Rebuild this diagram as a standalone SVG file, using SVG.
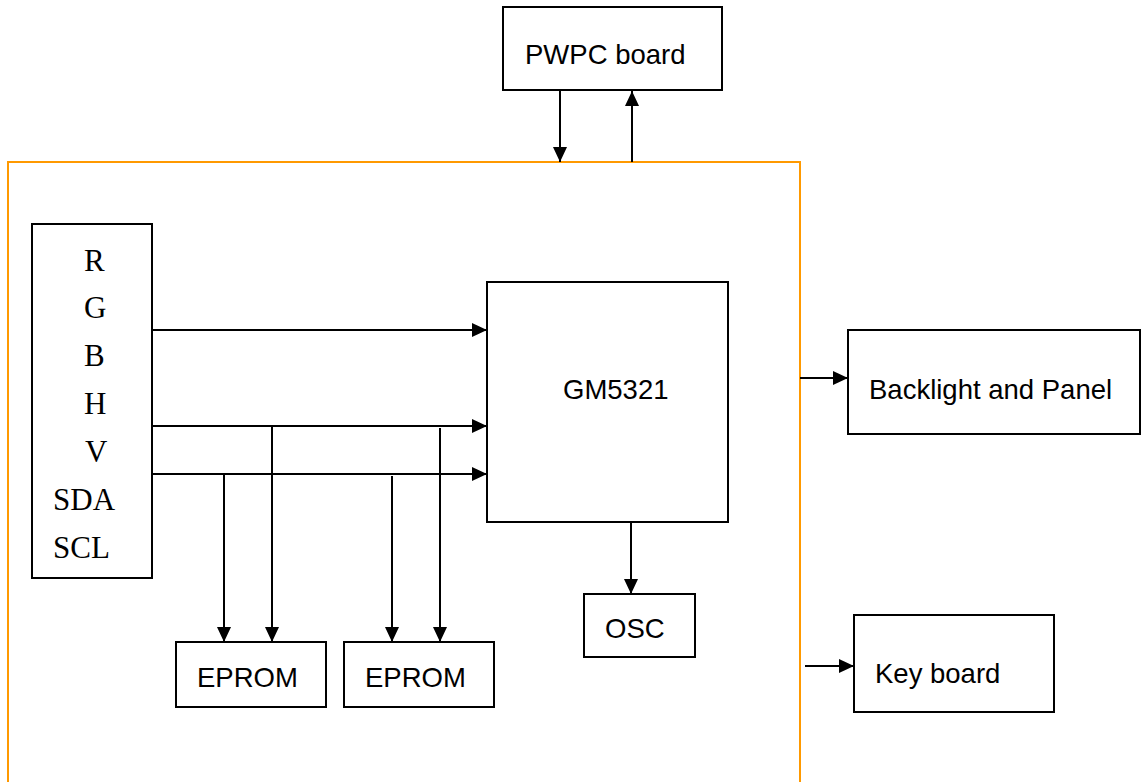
<svg xmlns="http://www.w3.org/2000/svg" width="1141" height="782" viewBox="0 0 1141 782">
<style>
.box{fill:#fff;stroke:#000;stroke-width:2}
.lbl{font-family:"Liberation Sans",Arial,sans-serif;font-size:27.5px;fill:#000}
.sig{font-family:"Liberation Serif","Times New Roman",serif;font-size:31px;fill:#000}
.ln{fill:none;stroke:#000;stroke-width:2}
.frame{fill:none;stroke:#FF9900;stroke-width:2}
</style>
<defs>
<marker id="ah" markerUnits="userSpaceOnUse" markerWidth="15" markerHeight="14" refX="15" refY="7" orient="auto">
<path d="M0,0 L15,7 L0,14 Z" fill="#000"/>
</marker>
</defs>
<rect width="1141" height="782" fill="#fff"/>
<path id="frame" class="frame" d="M8,782 L8,162 L800,162 L800,782"/>
<g id="pwpc">
<rect class="box" x="503" y="7" width="219" height="83"/>
<text class="lbl" x="525" y="64">PWPC board</text>
</g>
<g id="signals">
<rect class="box" x="32" y="224" width="120" height="354"/>
<text class="sig" x="84" y="271">R</text>
<text class="sig" x="84" y="318">G</text>
<text class="sig" x="84" y="366">B</text>
<text class="sig" x="84" y="414">H</text>
<text class="sig" x="85" y="462">V</text>
<text class="sig" x="53" y="510">SDA</text>
<text class="sig" x="53" y="558">SCL</text>
</g>
<g id="gm5321">
<rect class="box" x="487" y="282" width="241" height="240"/>
<text class="lbl" x="563" y="399">GM5321</text>
</g>
<g id="backlight">
<rect class="box" x="848" y="330" width="292" height="104"/>
<text class="lbl" x="869" y="399">Backlight and Panel</text>
</g>
<g id="osc">
<rect class="box" x="584" y="594" width="111" height="63"/>
<text class="lbl" x="605" y="638">OSC</text>
</g>
<g id="eprom1">
<rect class="box" x="176" y="642" width="150" height="65"/>
<text class="lbl" x="197" y="687">EPROM</text>
</g>
<g id="eprom2">
<rect class="box" x="344" y="642" width="150" height="65"/>
<text class="lbl" x="365" y="687">EPROM</text>
</g>
<g id="keyboard">
<rect class="box" x="854" y="615" width="200" height="97"/>
<text class="lbl" x="875" y="683">Key board</text>
</g>
<g id="connectors">
<line class="ln" x1="560" y1="90" x2="560" y2="162" marker-end="url(#ah)"/>
<line class="ln" x1="632" y1="162" x2="632" y2="91" marker-end="url(#ah)"/>
<line class="ln" x1="152" y1="330" x2="487" y2="330" marker-end="url(#ah)"/>
<line class="ln" x1="152" y1="426" x2="487" y2="426" marker-end="url(#ah)"/>
<line class="ln" x1="152" y1="474" x2="487" y2="474" marker-end="url(#ah)"/>
<line class="ln" x1="224" y1="474" x2="224" y2="642" marker-end="url(#ah)"/>
<line class="ln" x1="272" y1="426" x2="272" y2="642" marker-end="url(#ah)"/>
<line class="ln" x1="392" y1="476" x2="392" y2="642" marker-end="url(#ah)"/>
<line class="ln" x1="440" y1="428" x2="440" y2="642" marker-end="url(#ah)"/>
<line class="ln" x1="631" y1="522" x2="631" y2="594" marker-end="url(#ah)"/>
<line class="ln" x1="800" y1="378" x2="848" y2="378" marker-end="url(#ah)"/>
<line class="ln" x1="805" y1="666" x2="854" y2="666" marker-end="url(#ah)"/>
</g>
</svg>
